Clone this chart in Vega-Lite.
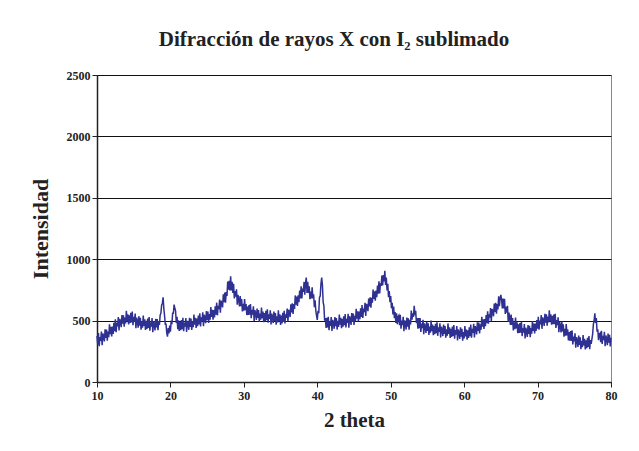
{
"$schema": "https://vega.github.io/schema/vega-lite/v6.json",
"autosize": {"type": "none"},
"width": 514,
"height": 307,
"padding": {"left": 97, "top": 75, "right": 28, "bottom": 69},
"background": "white",
"title": {"text": "Difracción de rayos X con I₂ sublimado", "font": "Liberation Serif", "fontSize": 21, "fontWeight": "bold", "color": "#222", "anchor": "middle", "dx": -20, "offset": 19},
"config": {"view": {"stroke": "#888", "strokeWidth": 1}},
"data": {"values": [
{"x":10.0,"y":375},{"x":10.1,"y":304},{"x":10.2,"y":398},{"x":10.3,"y":292},{"x":10.4,"y":366},{"x":10.5,"y":335},{"x":10.6,"y":410},{"x":10.7,"y":300},{"x":10.8,"y":395},{"x":10.9,"y":375},
{"x":11.0,"y":330},{"x":11.1,"y":429},{"x":11.2,"y":358},{"x":11.3,"y":427},{"x":11.4,"y":336},{"x":11.5,"y":410},{"x":11.6,"y":365},{"x":11.7,"y":470},{"x":11.8,"y":390},{"x":11.9,"y":450},
{"x":12.0,"y":370},{"x":12.1,"y":451},{"x":12.2,"y":392},{"x":12.3,"y":483},{"x":12.4,"y":414},{"x":12.5,"y":510},{"x":12.6,"y":406},{"x":12.7,"y":482},{"x":12.8,"y":453},{"x":12.9,"y":529},
{"x":13.0,"y":420},{"x":13.1,"y":514},{"x":13.2,"y":493},{"x":13.3,"y":447},{"x":13.4,"y":546},{"x":13.5,"y":475},{"x":13.6,"y":543},{"x":13.7,"y":451},{"x":13.8,"y":524},{"x":13.9,"y":477},
{"x":14.0,"y":580},{"x":14.1,"y":496},{"x":14.2,"y":552},{"x":14.3,"y":468},{"x":14.4,"y":544},{"x":14.5,"y":480},{"x":14.6,"y":563},{"x":14.7,"y":486},{"x":14.8,"y":574},{"x":14.9,"y":462},
{"x":15.0,"y":530},{"x":15.1,"y":491},{"x":15.2,"y":557},{"x":15.3,"y":438},{"x":15.4,"y":524},{"x":15.5,"y":495},{"x":15.6,"y":443},{"x":15.7,"y":536},{"x":15.8,"y":459},{"x":15.9,"y":522},
{"x":16.0,"y":425},{"x":16.1,"y":494},{"x":16.2,"y":443},{"x":16.3,"y":542},{"x":16.4,"y":456},{"x":16.5,"y":510},{"x":16.6,"y":424},{"x":16.7,"y":498},{"x":16.8,"y":432},{"x":16.9,"y":516},
{"x":17.0,"y":440},{"x":17.1,"y":529},{"x":17.2,"y":418},{"x":17.3,"y":487},{"x":17.4,"y":451},{"x":17.5,"y":520},{"x":17.6,"y":405},{"x":17.7,"y":495},{"x":17.8,"y":470},{"x":17.9,"y":420},
{"x":18.0,"y":515},{"x":18.1,"y":444},{"x":18.2,"y":512},{"x":18.3,"y":421},{"x":18.4,"y":495},{"x":18.5,"y":465},{"x":18.6,"y":545},{"x":18.7,"y":560},{"x":18.8,"y":625},{"x":18.9,"y":640},
{"x":19.0,"y":690},{"x":19.1,"y":600},{"x":19.2,"y":540},{"x":19.3,"y":470},{"x":19.4,"y":470},{"x":19.5,"y":400},{"x":19.6,"y":370},{"x":19.7,"y":440},{"x":19.8,"y":395},{"x":19.9,"y":460},
{"x":20.0,"y":410},{"x":20.1,"y":500},{"x":20.2,"y":470},{"x":20.3,"y":560},{"x":20.4,"y":560},{"x":20.5,"y":630},{"x":20.6,"y":600},{"x":20.7,"y":580},{"x":20.8,"y":480},{"x":20.9,"y":530},
{"x":21.0,"y":430},{"x":21.1,"y":503},{"x":21.2,"y":416},{"x":21.3,"y":489},{"x":21.4,"y":422},{"x":21.5,"y":505},{"x":21.6,"y":431},{"x":21.7,"y":522},{"x":21.8,"y":413},{"x":21.9,"y":484},
{"x":22.0,"y":450},{"x":22.1,"y":521},{"x":22.2,"y":407},{"x":22.3,"y":498},{"x":22.4,"y":474},{"x":22.5,"y":425},{"x":22.6,"y":522},{"x":22.7,"y":449},{"x":22.8,"y":516},{"x":22.9,"y":423},
{"x":23.0,"y":495},{"x":23.1,"y":447},{"x":23.2,"y":549},{"x":23.3,"y":466},{"x":23.4,"y":523},{"x":23.5,"y":440},{"x":23.6,"y":517},{"x":23.7,"y":454},{"x":23.8,"y":541},{"x":23.9,"y":468},
{"x":24.0,"y":560},{"x":24.1,"y":453},{"x":24.2,"y":526},{"x":24.3,"y":494},{"x":24.4,"y":567},{"x":24.5,"y":455},{"x":24.6,"y":548},{"x":24.7,"y":526},{"x":24.8,"y":479},{"x":24.9,"y":577},
{"x":25.0,"y":505},{"x":25.1,"y":573},{"x":25.2,"y":481},{"x":25.3,"y":554},{"x":25.4,"y":507},{"x":25.5,"y":610},{"x":25.6,"y":529},{"x":25.7,"y":588},{"x":25.8,"y":507},{"x":25.9,"y":586},
{"x":26.0,"y":525},{"x":26.1,"y":617},{"x":26.2,"y":549},{"x":26.3,"y":646},{"x":26.4,"y":543},{"x":26.5,"y":620},{"x":26.6,"y":593},{"x":26.7,"y":671},{"x":26.8,"y":564},{"x":26.9,"y":662},
{"x":27.0,"y":645},{"x":27.1,"y":607},{"x":27.2,"y":714},{"x":27.3,"y":651},{"x":27.4,"y":728},{"x":27.5,"y":645},{"x":27.6,"y":733},{"x":27.7,"y":701},{"x":27.8,"y":819},{"x":27.9,"y":752},
{"x":28.0,"y":825},{"x":28.1,"y":745},{"x":28.2,"y":860},{"x":28.3,"y":745},{"x":28.4,"y":815},{"x":28.5,"y":725},{"x":28.6,"y":800},{"x":28.7,"y":680},{"x":28.8,"y":740},{"x":28.9,"y":695},
{"x":29.0,"y":755},{"x":29.1,"y":630},{"x":29.2,"y":710},{"x":29.3,"y":675},{"x":29.4,"y":615},{"x":29.5,"y":700},{"x":29.6,"y":618},{"x":29.7,"y":676},{"x":29.8,"y":574},{"x":29.9,"y":637},
{"x":30.0,"y":580},{"x":30.1,"y":675},{"x":30.2,"y":585},{"x":30.3,"y":635},{"x":30.4,"y":545},{"x":30.5,"y":615},{"x":30.6,"y":546},{"x":30.7,"y":627},{"x":30.8,"y":548},{"x":30.9,"y":634},
{"x":31.0,"y":520},{"x":31.1,"y":587},{"x":31.2,"y":549},{"x":31.3,"y":616},{"x":31.4,"y":498},{"x":31.5,"y":585},{"x":31.6,"y":558},{"x":31.7,"y":506},{"x":31.8,"y":599},{"x":31.9,"y":522},
{"x":32.0,"y":585},{"x":32.1,"y":489},{"x":32.2,"y":558},{"x":32.3,"y":507},{"x":32.4,"y":606},{"x":32.5,"y":520},{"x":32.6,"y":574},{"x":32.7,"y":488},{"x":32.8,"y":562},{"x":32.9,"y":496},
{"x":33.0,"y":580},{"x":33.1,"y":504},{"x":33.2,"y":593},{"x":33.3,"y":482},{"x":33.4,"y":551},{"x":33.5,"y":515},{"x":33.6,"y":584},{"x":33.7,"y":468},{"x":33.8,"y":557},{"x":33.9,"y":531},
{"x":34.0,"y":480},{"x":34.1,"y":574},{"x":34.2,"y":498},{"x":34.3,"y":562},{"x":34.4,"y":466},{"x":34.5,"y":535},{"x":34.6,"y":484},{"x":34.7,"y":583},{"x":34.8,"y":497},{"x":34.9,"y":551},
{"x":35.0,"y":465},{"x":35.1,"y":541},{"x":35.2,"y":477},{"x":35.3,"y":563},{"x":35.4,"y":489},{"x":35.5,"y":580},{"x":35.6,"y":476},{"x":35.7,"y":552},{"x":35.8,"y":523},{"x":35.9,"y":599},
{"x":36.0,"y":490},{"x":36.1,"y":588},{"x":36.2,"y":571},{"x":36.3,"y":529},{"x":36.4,"y":632},{"x":36.5,"y":566},{"x":36.6,"y":640},{"x":36.7,"y":555},{"x":36.8,"y":635},{"x":36.9,"y":595},
{"x":37.0,"y":705},{"x":37.1,"y":630},{"x":37.2,"y":695},{"x":37.3,"y":620},{"x":37.4,"y":705},{"x":37.5,"y":650},{"x":37.6,"y":745},{"x":37.7,"y":680},{"x":37.8,"y":780},{"x":37.9,"y":680},
{"x":38.0,"y":760},{"x":38.1,"y":735},{"x":38.2,"y":815},{"x":38.3,"y":710},{"x":38.4,"y":810},{"x":38.5,"y":850},{"x":38.6,"y":725},{"x":38.7,"y":815},{"x":38.8,"y":725},{"x":38.9,"y":780},
{"x":39.0,"y":675},{"x":39.1,"y":737},{"x":39.2,"y":680},{"x":39.3,"y":772},{"x":39.4,"y":680},{"x":39.5,"y":715},{"x":39.6,"y":610},{"x":39.7,"y":665},{"x":39.8,"y":580},{"x":39.9,"y":540},
{"x":40.0,"y":505},{"x":40.1,"y":580},{"x":40.2,"y":560},{"x":40.3,"y":690},{"x":40.4,"y":700},{"x":40.5,"y":800},{"x":40.6,"y":850},{"x":40.7,"y":790},{"x":40.8,"y":650},{"x":40.9,"y":620},
{"x":41.0,"y":500},{"x":41.1,"y":520},{"x":41.2,"y":440},{"x":41.3,"y":522},{"x":41.4,"y":444},{"x":41.5,"y":530},{"x":41.6,"y":421},{"x":41.7,"y":492},{"x":41.8,"y":458},{"x":41.9,"y":529},
{"x":42.0,"y":415},{"x":42.1,"y":506},{"x":42.2,"y":482},{"x":42.3,"y":433},{"x":42.4,"y":529},{"x":42.5,"y":455},{"x":42.6,"y":521},{"x":42.7,"y":427},{"x":42.8,"y":498},{"x":42.9,"y":449},
{"x":43.0,"y":550},{"x":43.1,"y":466},{"x":43.2,"y":522},{"x":43.3,"y":438},{"x":43.4,"y":514},{"x":43.5,"y":450},{"x":43.6,"y":536},{"x":43.7,"y":462},{"x":43.8,"y":553},{"x":43.9,"y":444},
{"x":44.0,"y":515},{"x":44.1,"y":482},{"x":44.2,"y":555},{"x":44.3,"y":442},{"x":44.4,"y":535},{"x":44.5,"y":512},{"x":44.6,"y":465},{"x":44.7,"y":562},{"x":44.8,"y":490},{"x":44.9,"y":557},
{"x":45.0,"y":465},{"x":45.1,"y":539},{"x":45.2,"y":493},{"x":45.3,"y":597},{"x":45.4,"y":516},{"x":45.5,"y":575},{"x":45.6,"y":494},{"x":45.7,"y":573},{"x":45.8,"y":512},{"x":45.9,"y":601},
{"x":46.0,"y":530},{"x":46.1,"y":626},{"x":46.2,"y":522},{"x":46.3,"y":598},{"x":46.4,"y":569},{"x":46.5,"y":645},{"x":46.6,"y":538},{"x":46.7,"y":636},{"x":46.8,"y":619},{"x":46.9,"y":577},
{"x":47.0,"y":680},{"x":47.1,"y":615},{"x":47.2,"y":690},{"x":47.3,"y":605},{"x":47.4,"y":685},{"x":47.5,"y":645},{"x":47.6,"y":753},{"x":47.7,"y":676},{"x":47.8,"y":739},{"x":47.9,"y":662},
{"x":48.0,"y":745},{"x":48.1,"y":690},{"x":48.2,"y":785},{"x":48.3,"y":720},{"x":48.4,"y":820},{"x":48.5,"y":722},{"x":48.6,"y":804},{"x":48.7,"y":783},{"x":48.8,"y":867},{"x":48.9,"y":786},
{"x":49.0,"y":870},{"x":49.1,"y":820},{"x":49.2,"y":905},{"x":49.3,"y":790},{"x":49.4,"y":850},{"x":49.5,"y":745},{"x":49.6,"y":800},{"x":49.7,"y":690},{"x":49.8,"y":740},{"x":49.9,"y":650},
{"x":50.0,"y":700},{"x":50.1,"y":600},{"x":50.2,"y":645},{"x":50.3,"y":550},{"x":50.4,"y":615},{"x":50.5,"y":520},{"x":50.6,"y":570},{"x":50.7,"y":480},{"x":50.8,"y":560},{"x":50.9,"y":470},
{"x":51.0,"y":530},{"x":51.1,"y":541},{"x":51.2,"y":462},{"x":51.3,"y":548},{"x":51.4,"y":434},{"x":51.5,"y":500},{"x":51.6,"y":463},{"x":51.7,"y":531},{"x":51.8,"y":414},{"x":51.9,"y":502},
{"x":52.0,"y":475},{"x":52.1,"y":427},{"x":52.2,"y":524},{"x":52.3,"y":451},{"x":52.4,"y":518},{"x":52.5,"y":425},{"x":52.6,"y":507},{"x":52.7,"y":469},{"x":52.8,"y":581},{"x":52.9,"y":508},
{"x":53.0,"y":560},{"x":53.1,"y":530},{"x":53.2,"y":620},{"x":53.3,"y":545},{"x":53.4,"y":580},{"x":53.5,"y":480},{"x":53.6,"y":520},{"x":53.7,"y":435},{"x":53.8,"y":520},{"x":53.9,"y":438},
{"x":54.0,"y":520},{"x":54.1,"y":408},{"x":54.2,"y":476},{"x":54.3,"y":439},{"x":54.4,"y":507},{"x":54.5,"y":390},{"x":54.6,"y":478},{"x":54.7,"y":451},{"x":54.8,"y":399},{"x":54.9,"y":492},
{"x":55.0,"y":415},{"x":55.1,"y":479},{"x":55.2,"y":383},{"x":55.3,"y":452},{"x":55.4,"y":401},{"x":55.5,"y":500},{"x":55.6,"y":414},{"x":55.7,"y":468},{"x":55.8,"y":382},{"x":55.9,"y":456},
{"x":56.0,"y":390},{"x":56.1,"y":474},{"x":56.2,"y":398},{"x":56.3,"y":487},{"x":56.4,"y":376},{"x":56.5,"y":445},{"x":56.6,"y":409},{"x":56.7,"y":478},{"x":56.8,"y":362},{"x":56.9,"y":451},
{"x":57.0,"y":425},{"x":57.1,"y":374},{"x":57.2,"y":468},{"x":57.3,"y":392},{"x":57.4,"y":456},{"x":57.5,"y":360},{"x":57.6,"y":429},{"x":57.7,"y":378},{"x":57.8,"y":477},{"x":57.9,"y":391},
{"x":58.0,"y":445},{"x":58.1,"y":359},{"x":58.2,"y":433},{"x":58.3,"y":367},{"x":58.4,"y":451},{"x":58.5,"y":375},{"x":58.6,"y":464},{"x":58.7,"y":353},{"x":58.8,"y":422},{"x":58.9,"y":386},
{"x":59.0,"y":455},{"x":59.1,"y":339},{"x":59.2,"y":428},{"x":59.3,"y":402},{"x":59.4,"y":351},{"x":59.5,"y":445},{"x":59.6,"y":369},{"x":59.7,"y":433},{"x":59.8,"y":337},{"x":59.9,"y":406},
{"x":60.0,"y":355},{"x":60.1,"y":456},{"x":60.2,"y":372},{"x":60.3,"y":428},{"x":60.4,"y":344},{"x":60.5,"y":420},{"x":60.6,"y":358},{"x":60.7,"y":446},{"x":60.8,"y":374},{"x":60.9,"y":467},
{"x":61.0,"y":360},{"x":61.1,"y":433},{"x":61.2,"y":401},{"x":61.3,"y":474},{"x":61.4,"y":362},{"x":61.5,"y":455},{"x":61.6,"y":434},{"x":61.7,"y":388},{"x":61.8,"y":487},{"x":61.9,"y":416},
{"x":62.0,"y":485},{"x":62.1,"y":395},{"x":62.2,"y":470},{"x":62.3,"y":425},{"x":62.4,"y":530},{"x":62.5,"y":450},{"x":62.6,"y":511},{"x":62.7,"y":432},{"x":62.8,"y":513},{"x":62.9,"y":454},
{"x":63.0,"y":545},{"x":63.1,"y":478},{"x":63.2,"y":576},{"x":63.3,"y":474},{"x":63.4,"y":552},{"x":63.5,"y":525},{"x":63.6,"y":603},{"x":63.7,"y":496},{"x":63.8,"y":594},{"x":63.9,"y":577},
{"x":64.0,"y":535},{"x":64.1,"y":638},{"x":64.2,"y":571},{"x":64.3,"y":644},{"x":64.4,"y":557},{"x":64.5,"y":635},{"x":64.6,"y":591},{"x":64.7,"y":697},{"x":64.8,"y":618},{"x":64.9,"y":679},
{"x":65.0,"y":710},{"x":65.1,"y":670},{"x":65.2,"y":600},{"x":65.3,"y":680},{"x":65.4,"y":600},{"x":65.5,"y":678},{"x":65.6,"y":555},{"x":65.7,"y":612},{"x":65.8,"y":565},{"x":65.9,"y":620},
{"x":66.0,"y":490},{"x":66.1,"y":565},{"x":66.2,"y":525},{"x":66.3,"y":465},{"x":66.4,"y":550},{"x":66.5,"y":465},{"x":66.6,"y":520},{"x":66.7,"y":420},{"x":66.8,"y":485},{"x":66.9,"y":430},
{"x":67.0,"y":525},{"x":67.1,"y":436},{"x":67.2,"y":487},{"x":67.3,"y":398},{"x":67.4,"y":469},{"x":67.5,"y":400},{"x":67.6,"y":481},{"x":67.7,"y":402},{"x":67.8,"y":488},{"x":67.9,"y":374},
{"x":68.0,"y":440},{"x":68.1,"y":403},{"x":68.2,"y":471},{"x":68.3,"y":354},{"x":68.4,"y":442},{"x":68.5,"y":415},{"x":68.6,"y":367},{"x":68.7,"y":464},{"x":68.8,"y":391},{"x":68.9,"y":458},
{"x":69.0,"y":365},{"x":69.1,"y":439},{"x":69.2,"y":393},{"x":69.3,"y":497},{"x":69.4,"y":416},{"x":69.5,"y":475},{"x":69.6,"y":395},{"x":69.7,"y":475},{"x":69.8,"y":415},{"x":69.9,"y":505},
{"x":70.0,"y":435},{"x":70.1,"y":530},{"x":70.2,"y":425},{"x":70.3,"y":500},{"x":70.4,"y":470},{"x":70.5,"y":545},{"x":70.6,"y":433},{"x":70.7,"y":526},{"x":70.8,"y":504},{"x":70.9,"y":457},
{"x":71.0,"y":555},{"x":71.1,"y":483},{"x":71.2,"y":551},{"x":71.3,"y":459},{"x":71.4,"y":532},{"x":71.5,"y":485},{"x":71.6,"y":584},{"x":71.7,"y":498},{"x":71.8,"y":552},{"x":71.9,"y":466},
{"x":72.0,"y":540},{"x":72.1,"y":470},{"x":72.2,"y":550},{"x":72.3,"y":470},{"x":72.4,"y":555},{"x":72.5,"y":440},{"x":72.6,"y":504},{"x":72.7,"y":463},{"x":72.8,"y":527},{"x":72.9,"y":406},
{"x":73.0,"y":490},{"x":73.1,"y":459},{"x":73.2,"y":403},{"x":73.3,"y":492},{"x":73.4,"y":411},{"x":73.5,"y":470},{"x":73.6,"y":369},{"x":73.7,"y":433},{"x":73.8,"y":377},{"x":73.9,"y":471},
{"x":74.0,"y":380},{"x":74.1,"y":429},{"x":74.2,"y":338},{"x":74.3,"y":407},{"x":74.4,"y":336},{"x":74.5,"y":415},{"x":74.6,"y":335},{"x":74.7,"y":420},{"x":74.8,"y":305},{"x":74.9,"y":370},
{"x":75.0,"y":330},{"x":75.1,"y":397},{"x":75.2,"y":279},{"x":75.3,"y":366},{"x":75.4,"y":338},{"x":75.5,"y":285},{"x":75.6,"y":378},{"x":75.7,"y":301},{"x":75.8,"y":364},{"x":75.9,"y":267},
{"x":76.0,"y":335},{"x":76.1,"y":284},{"x":76.2,"y":383},{"x":76.3,"y":297},{"x":76.4,"y":351},{"x":76.5,"y":265},{"x":76.6,"y":340},{"x":76.7,"y":275},{"x":76.8,"y":360},{"x":76.9,"y":285},
{"x":77.0,"y":375},{"x":77.1,"y":268},{"x":77.2,"y":342},{"x":77.3,"y":311},{"x":77.4,"y":350},{"x":77.5,"y":390},{"x":77.6,"y":470},{"x":77.7,"y":500},{"x":77.8,"y":560},{"x":77.9,"y":480},
{"x":78.0,"y":520},{"x":78.1,"y":410},{"x":78.2,"y":430},{"x":78.3,"y":340},{"x":78.4,"y":390},{"x":78.5,"y":397},{"x":78.6,"y":325},{"x":78.7,"y":417},{"x":78.8,"y":310},{"x":78.9,"y":377},
{"x":79.0,"y":340},{"x":79.1,"y":408},{"x":79.2,"y":291},{"x":79.3,"y":379},{"x":79.4,"y":352},{"x":79.5,"y":300},{"x":79.6,"y":395},{"x":79.7,"y":320},{"x":79.8,"y":385},{"x":79.9,"y":290},
{"x":80.0,"y":360}
]},
"mark": {"type": "line", "color": "#2E3192", "strokeWidth": 1.5},
"encoding": {
"x": {"field": "x", "type": "quantitative", "scale": {"domain": [10, 80], "nice": false, "zero": false},
"axis": {"title": "2 theta", "values": [10,20,30,40,50,60,70,80], "format": "d", "grid": false, "domainColor": "#222", "domainWidth": 1.5, "tickColor": "#222", "tickSize": 5, "labelFont": "Liberation Serif", "labelFontSize": 12, "labelFontWeight": "bold", "labelColor": "#222", "labelFlush": false, "labelPadding": 3, "titleFont": "Liberation Serif", "titleFontSize": 21, "titleFontWeight": "bold", "titleColor": "#222", "titlePadding": 8}},
"y": {"field": "y", "type": "quantitative", "scale": {"domain": [0, 2500], "nice": false},
"axis": {"title": "Intensidad", "values": [0,500,1000,1500,2000,2500], "format": "d", "grid": true, "gridColor": "#111", "gridWidth": 1, "gridOpacity": 1, "domainColor": "#222", "domainWidth": 1.5, "tickColor": "#222", "tickSize": 5, "labelFont": "Liberation Serif", "labelFontSize": 12, "labelFontWeight": "bold", "labelColor": "#222", "labelPadding": 2, "titleFont": "Liberation Serif", "titleFontSize": 22, "titleFontWeight": "bold", "titleColor": "#222", "titlePadding": 14}}
}
}
